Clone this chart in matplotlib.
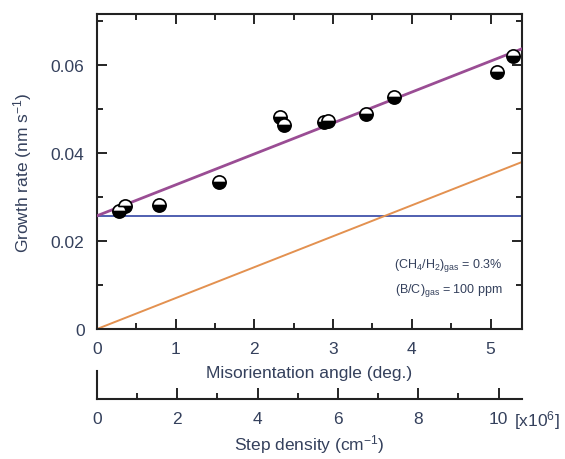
import matplotlib
matplotlib.use("Agg")
import matplotlib.pyplot as plt
import numpy as np

plt.rcParams['font.family'] = ['Liberation Sans', 'DejaVu Sans']
plt.rcParams['mathtext.default'] = 'regular'

# Data
angle_deg = [0.28, 0.36, 0.79, 1.55, 2.32, 2.38, 2.88, 2.94, 3.42, 3.78, 5.08, 5.28]
growth_rate = [0.0268, 0.0280, 0.0282, 0.0334, 0.0482, 0.0464, 0.0470, 0.0473, 0.0489, 0.0527, 0.0584, 0.0620]
terrace_rate = 0.0257          # horizontal (blue) line
step_slope = 0.00702           # orange line slope per degree
density_per_deg = 1.96         # step density (x10^6 cm^-1) per degree
density_ticks = [0, 2, 4, 6, 8, 10]
x_ticks = [0, 1, 2, 3, 4, 5]
y_ticks = [0, 0.02, 0.04, 0.06]
y_ticklabels = ['0', '0.02', '0.04', '0.06']

txt = '#34405c'
fs = 12.5
W, H = 565, 460
fig = plt.figure(figsize=(W/100, H/100), dpi=100)

ax = fig.add_axes([97/W, (H-330)/H, (522-97)/W, (330-15)/H])
xmax = 5.4
xs = np.array([0, xmax])
ax.plot(xs, [terrace_rate, terrace_rate], color='#4f5fb0', lw=1.4, zorder=2)
ax.plot(xs, step_slope*xs, color='#e39150', lw=1.4, zorder=2)
ax.plot(xs, terrace_rate + step_slope*xs, color='#9a4d94', lw=2.0, zorder=3)
ax.plot(angle_deg, growth_rate, 'o', ms=9.5, fillstyle='bottom',
        markerfacecolor='black', markerfacecoloralt='white',
        markeredgecolor='black', markeredgewidth=1.2, zorder=5, clip_on=False)

ax.set_xlim(0, xmax)
ax.set_ylim(0, 0.0715)
ax.set_xticks(x_ticks)
ax.set_xticks(np.arange(0.5, 5.5, 1.0), minor=True)
ax.set_yticks(y_ticks)
ax.set_yticklabels(y_ticklabels)
ax.set_yticks([0.01, 0.03, 0.05, 0.07], minor=True)
ax.tick_params(which='both', direction='in', top=True, right=True,
               labelsize=fs, labelcolor=txt, width=1.2)
ax.tick_params(which='major', length=7, pad=9)
ax.tick_params(which='minor', length=4)
for s in ax.spines.values():
    s.set_linewidth(1.5)
    s.set_color('#222222')
ax.set_xlabel('Misorientation angle (deg.)', fontsize=fs, color=txt, labelpad=6)
ax.set_ylabel('Growth rate (nm s$^{-1}$)', fontsize=fs, color=txt, labelpad=12)

ax.text(0.955, 0.205, '(CH$_4$/H$_2$)$_{gas}$ = 0.3%', transform=ax.transAxes,
        ha='right', va='center', fontsize=9, color=txt)
ax.text(0.955, 0.125, '(B/C)$_{gas}$ = 100 ppm', transform=ax.transAxes,
        ha='right', va='center', fontsize=9, color=txt)

# secondary (step density) axis
ax2 = fig.add_axes([97/W, (H-400)/H, (522-97)/W, 28/H])
ax2.set_xlim(0, xmax*density_per_deg)
ax2.set_ylim(0, 1)
ax2.set_xticks(density_ticks)
ax2.set_xticks([1, 3, 5, 7, 9], minor=True)
ax2.set_yticks([])
ax2.patch.set_alpha(0)
ax2.spines['top'].set_visible(False)
ax2.spines['right'].set_visible(False)
for s in ['left', 'bottom']:
    ax2.spines[s].set_linewidth(1.5)
    ax2.spines[s].set_color('#222222')
ax2.tick_params(which='both', direction='in', labelsize=fs, labelcolor=txt, width=1.2)
ax2.tick_params(which='major', length=8, pad=9)
ax2.tick_params(which='minor', length=4)
ax2.set_xlabel('Step density (cm$^{-1}$)', fontsize=fs, color=txt, labelpad=4)
fig.text(514/W, (H-421)/H, '[x10$^6$]', fontsize=fs, color=txt, ha='left', va='center')

fig.savefig('out.png', dpi=100)
